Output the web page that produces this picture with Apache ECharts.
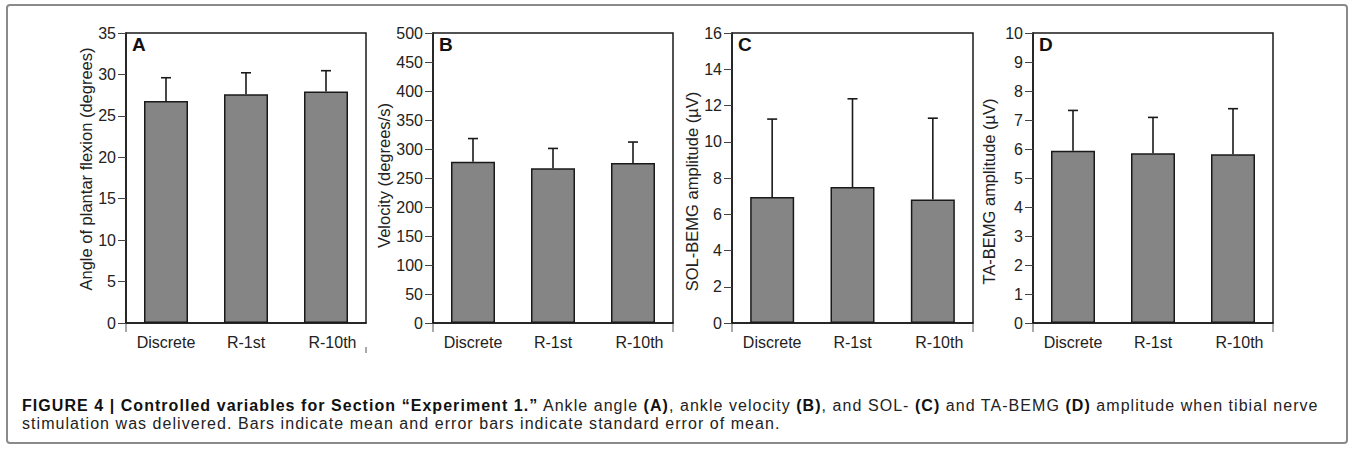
<!DOCTYPE html>
<html lang="en">
<head>
<meta charset="UTF-8">
<title>Figure 4</title>
<script src="https://cdn.jsdelivr.net/npm/echarts@6/dist/echarts.min.js"></script>
<style>
  html, body { margin: 0; padding: 0; background: #fff; }
  #wrap { position: relative; width: 1349px; height: 453px; }
  #main { width: 1349px; height: 453px; }
  #caption {
    position: absolute; left: 22px; top: 397px;
    font-family: "Liberation Sans", Arial, sans-serif;
    font-size: 16px; line-height: 18px; letter-spacing: 1.05px;
    color: #222; white-space: nowrap;
  }
  #caption b { color: #111; }
</style>
</head>
<body>
<div id="wrap">
  <div id="main"></div>
  <div id="caption"><b>FIGURE 4 | Controlled variables for Section “Experiment 1.”</b> Ankle angle <b>(A)</b>, ankle velocity <b>(B)</b>, and SOL- <b>(C)</b> and TA-BEMG <b>(D)</b> amplitude when tibial nerve<br>stimulation was delivered. Bars indicate mean and error bars indicate standard error of mean.</div>
</div>
<script type="text/javascript">
    var categories = ['Discrete', 'R-1st', 'R-10th'];

    // A: ankle angle (degrees)
    var angleMean = [26.8, 27.6, 27.95];
    var angleSE = [2.8, 2.6, 2.5];
    // B: ankle velocity (degrees/s)
    var velocityMean = [278, 267, 276];
    var velocitySE = [40, 34, 36];
    // C: SOL-BEMG amplitude (uV)
    var solMean = [6.95, 7.5, 6.82];
    var solSE = [4.3, 4.87, 4.48];
    // D: TA-BEMG amplitude (uV)
    var taMean = [5.94, 5.85, 5.82];
    var taSE = [1.39, 1.24, 1.57];

    // y axis ticks per panel
    var yMax = [35, 500, 16, 10];
    var yStep = [5, 50, 2, 1];

    var panelLetters = ['A', 'B', 'C', 'D'];
    var yNames = ['Angle of plantar flexion (degrees)', 'Velocity (degrees/s)',
                  'SOL-BEMG amplitude (\u00b5V)', 'TA-BEMG amplitude (\u00b5V)'];
    var means = [angleMean, velocityMean, solMean, taMean];
    var errs = [angleSE, velocitySE, solSE, taSE];

    // layout (pixels)
    var grids = [
        {left: 126, top: 33, width: 240, height: 290},
        {left: 433, top: 33, width: 240, height: 290},
        {left: 732, top: 33, width: 241, height: 290},
        {left: 1033, top: 33, width: 240, height: 290}
    ];
    var nameGaps = [28, 41, 30, 36];
    var namePad = [[0, 0, 0, 18], [0, 0, 0, 5], [0, 27, 0, 0], [0, 27, 0, 0]];

    var FONT = 'Liberation Sans, Arial, sans-serif';
    var INK = '#1a1a1a';

    function errRender(params, api) {
        var x = api.value(0);
        var m = api.value(1);
        var e = api.value(2);
        var base = api.coord([x, m]);
        var top = api.coord([x, m + e]);
        var st = {stroke: INK, lineWidth: 1.6};
        return {
            type: 'group',
            children: [
                {type: 'line', shape: {x1: base[0], y1: base[1], x2: top[0], y2: top[1]}, style: st},
                {type: 'line', shape: {x1: top[0] - 5, y1: top[1], x2: top[0] + 5, y2: top[1]}, style: st}
            ]
        };
    }

    var myChart = echarts.init(document.getElementById('main'), null, {renderer: 'svg'});

    var gridList = [], xList = [], yList = [], seriesList = [], graphicList = [];

    grids.forEach(function (g, i) {
        gridList.push({
            left: g.left, top: g.top, width: g.width, height: g.height,
            show: true, borderColor: INK, borderWidth: 1.5, backgroundColor: 'transparent'
        });
        xList.push({
            type: 'category', gridIndex: i, data: categories,
            axisLine: {lineStyle: {color: INK, width: 1.5}},
            axisTick: {show: false},
            axisLabel: {
                interval: 0,
                fontSize: 16, color: '#222', fontFamily: FONT, margin: 11,
                formatter: function (v, idx) { return idx === 2 ? '{s|' + v + '}' : v; },
                rich: {s: {fontSize: 16, color: '#222', fontFamily: FONT, padding: [0, 0, 0, 13]}}
            }
        });
        yList.push({
            type: 'value', gridIndex: i, min: 0, max: yMax[i], interval: yStep[i],
            name: yNames[i], nameLocation: 'middle', nameGap: nameGaps[i],
            nameTextStyle: {fontSize: 16.5, color: '#222', fontFamily: FONT, padding: namePad[i]},
            axisLine: {show: true, lineStyle: {color: INK, width: 1.5}},
            axisTick: {show: true, length: 8, lineStyle: {color: '#444', width: 1}},
            axisLabel: {fontSize: 16, color: '#222', fontFamily: FONT, margin: 10},
            splitLine: {show: false}
        });
        seriesList.push({
            type: 'bar', xAxisIndex: i, yAxisIndex: i,
            data: means[i], barWidth: 44,
            itemStyle: {color: '#858585', borderColor: INK, borderWidth: 1.5},
            z: 2
        });
        seriesList.push({
            type: 'custom', xAxisIndex: i, yAxisIndex: i,
            renderItem: errRender,
            data: means[i].map(function (m, k) { return [k, m, errs[i][k]]; }),
            z: 3
        });

        // panel letter
        graphicList.push({
            type: 'text', left: g.left + 6, top: g.top + 2,
            style: {text: panelLetters[i], fontSize: 19, fontWeight: 'bold', fill: '#111', fontFamily: FONT}
        });
        // frame lines that run past the x axis
        var yb = g.top + g.height;
        graphicList.push({
            type: 'line', shape: {x1: g.left, y1: yb, x2: g.left, y2: yb + 9},
            style: {stroke: '#555', lineWidth: 1}
        });
        if (i === 0) {
            graphicList.push({
                type: 'line', shape: {x1: g.left + g.width, y1: yb + 24, x2: g.left + g.width, y2: yb + 30},
                style: {stroke: '#555', lineWidth: 1}
            });
        } else {
            graphicList.push({
                type: 'line', shape: {x1: g.left + g.width, y1: yb, x2: g.left + g.width, y2: yb + 9},
                style: {stroke: '#555', lineWidth: 1}
            });
        }
    });

    // outer frame
    graphicList.push({
        type: 'rect', shape: {x: 7, y: 5, width: 1340, height: 438, r: 3},
        style: {fill: 'none', stroke: '#8a8a8a', lineWidth: 2}, z: -1
    });

    var option = {
        animation: false,
        backgroundColor: '#fff',
        grid: gridList,
        xAxis: xList,
        yAxis: yList,
        series: seriesList,
        graphic: graphicList
    };
    myChart.setOption(option);
</script>
</body>
</html>
